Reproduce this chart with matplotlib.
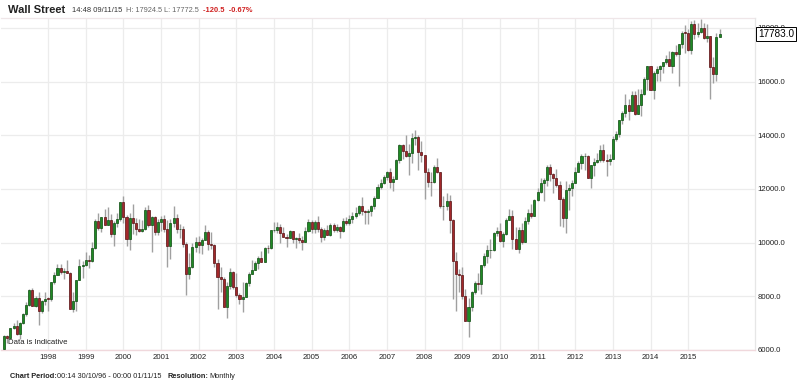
import matplotlib
matplotlib.use("Agg")
import matplotlib.pyplot as plt
import numpy as np

# ── Monthly OHLC, Nov 1996 .. Nov 2015 ─────────────────────────────────────
START_YEAR, START_MONTH = 1996, 11

opens = [
    6029, 6521,
    6448, 6813, 6878, 6584, 7009, 7331, 7673, 8223, 7622, 7945, 7442, 7823,
    7908, 7907, 8546, 8800, 9063, 8900, 8952, 8883, 7539, 7843, 8592, 9117,
    9181, 9359, 9307, 9786, 10789, 10560, 10971, 10655, 10829, 10337, 10730, 10878,
    11497, 10941, 10128, 10922, 10734, 10522, 10448, 10522, 11215, 10651, 10971, 10415,
    10787, 10887, 10495, 9879, 10735, 10912, 10502, 10523, 9950, 8848, 9075, 9852,
    10022, 9920, 10106, 10404, 9946, 9925, 9243, 8737, 8664, 7592, 8397, 8896,
    8342, 8054, 7891, 7992, 8480, 8850, 8985, 9234, 9416, 9275, 9801, 9782,
    10454, 10488, 10584, 10358, 10226, 10188, 10435, 10140, 10174, 10080, 10027, 10428,
    10783, 10490, 10766, 10504, 10193, 10467, 10275, 10641, 10482, 10569, 10440, 10806,
    10718, 10865, 10993, 11109, 11367, 11168, 11150, 11186, 11381, 11679, 12081, 12222,
    12463, 12622, 12269, 12354, 13063, 13628, 13409, 13212, 13358, 13896, 13930, 13372,
    13265, 12650, 12266, 12263, 12820, 12638, 11350, 11378, 11544, 10851, 9325, 8829,
    8776, 8001, 7063, 7609, 8168, 8500, 8447, 9172, 9496, 9712, 9713, 10345,
    10428, 10067, 10325, 10857, 11009, 10137, 9774, 10466, 10015, 10788, 11118, 11006,
    11578, 11892, 12226, 12320, 12811, 12570, 12414, 12143, 11614, 10913, 11955, 12046,
    12218, 12633, 12952, 13212, 13214, 12393, 12880, 13009, 13091, 13437, 13096, 13026,
    13104, 13861, 14054, 14579, 14840, 15116, 14910, 15500, 14810, 15130, 15546, 16086,
    16577, 15699, 16322, 16458, 16581, 16717, 16827, 16563, 17098, 17043, 17391, 17828,
    17823, 17165, 18133, 17776, 17841, 18011, 17620, 17690, 16528, 16285, 17664,
]
highs = [
    6548, 6561,
    6833, 7022, 7101, 7043, 7383, 7796, 8259, 8299, 8015, 8178, 7881, 8149,
    7978, 8550, 8906, 9211, 9211, 9070, 9367, 8914, 8154, 8592, 9380, 9320,
    9643, 9552, 10006, 10878, 11107, 10971, 11252, 11326, 11079, 10800, 11090, 11497,
    11750, 11041, 11119, 11425, 10936, 10864, 10843, 11331, 11401, 10977, 10984, 10899,
    10983, 11019, 10858, 10865, 11350, 11075, 10702, 10610, 10010, 9597, 9982, 10197,
    10259, 10176, 10673, 10485, 10403, 9935, 9380, 9077, 8734, 8538, 9043, 8928,
    8869, 8109, 8522, 8534, 8898, 9350, 9327, 9484, 9686, 9837, 9894, 10454,
    10753, 10753, 10678, 10570, 10318, 10479, 10436, 10212, 10342, 10240, 10573, 10868,
    10854, 10842, 10984, 10570, 10542, 10656, 10720, 10719, 10701, 10610, 10934, 10940,
    11048, 11137, 11335, 11413, 11709, 11230, 11242, 11420, 11728, 12167, 12361, 12529,
    12686, 12795, 12485, 13121, 13692, 13692, 14021, 13692, 14087, 14198, 14021, 13778,
    13280, 12767, 12622, 12891, 13136, 12638, 11748, 11867, 11790, 10882, 9654, 9026,
    9088, 8281, 7924, 8200, 8588, 8877, 9172, 9630, 9918, 10119, 10406, 10580,
    10730, 10402, 10908, 11258, 11205, 10594, 10581, 10720, 10948, 11245, 11452, 11625,
    12020, 12391, 12419, 12876, 12929, 12583, 12753, 12284, 11717, 12284, 12187, 12331,
    12814, 13055, 13289, 13338, 13279, 12898, 13159, 13330, 13653, 13662, 13290, 13311,
    13969, 14149, 14585, 14888, 15542, 15340, 15635, 15658, 15709, 15722, 16174, 16588,
    16588, 16398, 16588, 16632, 16736, 16978, 17152, 17153, 17350, 17395, 17895, 18103,
    17951, 18244, 18288, 18175, 18351, 18168, 18137, 17710, 16934, 17799, 17978,
]
lows = [
    6008, 6268,
    6392, 6772, 6555, 6392, 6976, 7264, 7645, 7622, 7600, 6937, 7381, 7660,
    7439, 7826, 8445, 8780, 8847, 8627, 8861, 7539, 7400, 7467, 8592, 8695,
    9120, 9063, 9268, 9752, 10466, 10398, 10655, 10646, 10213, 9884, 10581, 10825,
    10738, 9862, 9731, 10306, 10300, 10378, 10403, 10484, 10599, 9654, 10300, 10291,
    10434, 10386, 9106, 9389, 10576, 10376, 10175, 9830, 8062, 8659, 9050, 9645,
    9602, 9564, 10090, 9720, 9748, 9088, 7532, 8144, 7592, 7197, 8284, 8277,
    7990, 7702, 7416, 7988, 8395, 8835, 8963, 9010, 9275, 9272, 9622, 9770,
    10410, 10370, 9995, 10225, 9852, 10190, 9971, 9784, 10000, 9708, 10027, 10410,
    10368, 10371, 10404, 10012, 10109, 10270, 10240, 10397, 10379, 10156, 10406, 10650,
    10661, 10741, 10900, 11017, 11018, 10699, 10682, 10999, 11270, 11650, 11986, 12177,
    12325, 12022, 11939, 12354, 12970, 13115, 13183, 12518, 12971, 13650, 12725, 13007,
    11634, 12069, 11731, 12215, 12579, 11288, 10827, 11221, 10365, 7882, 7449, 8149,
    7909, 7062, 6470, 7456, 8083, 8221, 8087, 9079, 9253, 9430, 9678, 10235,
    10038, 9836, 10300, 10855, 9774, 9757, 9614, 9936, 10010, 10712, 10929, 11005,
    11535, 11858, 11555, 12093, 12294, 11862, 12080, 10604, 10597, 10362, 11231, 11735,
    12218, 12630, 12758, 12710, 12391, 12036, 12492, 12977, 12998, 12992, 12471, 12883,
    13104, 13784, 13937, 14434, 14688, 14552, 14911, 14760, 14777, 14719, 15516, 15703,
    15699, 15340, 16015, 16015, 16333, 16659, 16563, 16334, 16945, 15855, 17269, 17068,
    17136, 17038, 17586, 17660, 17799, 17597, 17465, 15370, 15942, 16013, 17664,
]
closes = [
    6521, 6448,
    6813, 6878, 6584, 7009, 7331, 7673, 8223, 7622, 7945, 7442, 7823, 7908,
    7907, 8546, 8800, 9063, 8900, 8952, 8883, 7539, 7843, 8592, 9117, 9181,
    9359, 9307, 9786, 10789, 10560, 10971, 10655, 10829, 10337, 10730, 10878, 11497,
    10941, 10128, 10922, 10734, 10522, 10448, 10522, 11215, 10651, 10971, 10415, 10787,
    10887, 10495, 9879, 10735, 10912, 10502, 10523, 9950, 8848, 9075, 9852, 10022,
    9920, 10106, 10404, 9946, 9925, 9243, 8737, 8664, 7592, 8397, 8896, 8342,
    8054, 7891, 7992, 8480, 8850, 8985, 9234, 9416, 9275, 9801, 9782, 10454,
    10488, 10584, 10358, 10226, 10188, 10435, 10140, 10174, 10080, 10027, 10428, 10783,
    10490, 10766, 10504, 10193, 10467, 10275, 10641, 10482, 10569, 10440, 10806, 10718,
    10865, 10993, 11109, 11367, 11168, 11150, 11186, 11381, 11679, 12081, 12222, 12463,
    12622, 12269, 12354, 13063, 13628, 13409, 13212, 13358, 13896, 13930, 13372, 13265,
    12650, 12266, 12263, 12820, 12638, 11350, 11378, 11544, 10851, 9325, 8829, 8776,
    8001, 7063, 7609, 8168, 8500, 8447, 9172, 9496, 9712, 9713, 10345, 10428,
    10067, 10325, 10857, 11009, 10137, 9774, 10466, 10015, 10788, 11118, 11006, 11578,
    11892, 12226, 12320, 12811, 12570, 12414, 12143, 11614, 10913, 11955, 12046, 12218,
    12633, 12952, 13212, 13214, 12393, 12880, 13009, 13091, 13437, 13096, 13026, 13104,
    13861, 14054, 14579, 14840, 15116, 14910, 15500, 14810, 15130, 15546, 16086, 16577,
    15699, 16322, 16458, 16581, 16717, 16827, 16563, 17098, 17043, 17391, 17828, 17823,
    17165, 18133, 17776, 17841, 18011, 17620, 17690, 16528, 16285, 17664, 17783,
]

year_labels = list(range(1998, 2016))
y_ticks = [6000, 8000, 10000, 12000, 14000, 16000, 18000]
last_price = "17783.0"

# ── Style ───────────────────────────────────────────────────────────────────
UP_FILL, UP_EDGE = "#1f8a24", "#0d4a10"
DN_FILL, DN_EDGE = "#a3282a", "#551012"
WICK = "#a0a0a0"
GRID = "#ececec"
FONT = "Liberation Sans"

fig = plt.figure(figsize=(8.0, 3.81), dpi=100)
ax = fig.add_axes([1 / 800, 1 - 350 / 381, 754 / 800, 332 / 381])

n = len(closes)
x = np.arange(n)
o, h, l, c = map(np.asarray, (opens, highs, lows, closes))
up = c >= o

ax.vlines(x, l, h, color=WICK, linewidth=1.0, zorder=2)
body_lo = np.minimum(o, c)
body_h = np.maximum(np.abs(c - o), 15)
ax.bar(x[up], body_h[up], bottom=body_lo[up], width=0.66,
       color=UP_FILL, edgecolor=UP_EDGE, linewidth=0.5, zorder=3)
ax.bar(x[~up], body_h[~up], bottom=body_lo[~up], width=0.66,
       color=DN_FILL, edgecolor=DN_EDGE, linewidth=0.5, zorder=3)

# year grid (January of each year)
year_pos = [(yr - START_YEAR) * 12 + (1 - START_MONTH) for yr in year_labels]
ax.set_xticks(year_pos)
ax.set_xticklabels([str(yr) for yr in year_labels])
ax.set_xlim(-1, 239.3)
ax.set_ylim(6000, 18370)
ax.set_yticks(y_ticks)
ax.set_yticklabels([f"{v:.1f}" for v in y_ticks])
ax.yaxis.tick_right()
ax.grid(True, color=GRID, linewidth=0.9, zorder=0)
ax.tick_params(axis="both", length=0, labelsize=5.6, colors="#222222", pad=3)
ax.tick_params(axis="y", pad=2)
for lab in ax.get_xticklabels() + ax.get_yticklabels():
    lab.set_fontfamily(FONT)

for side in ("left", "top"):
    ax.spines[side].set_visible(False)
ax.spines["right"].set_color("#e6e6e6")
ax.spines["bottom"].set_color("#f0d8dc")
ax.spines["right"].set_linewidth(0.9)
ax.spines["bottom"].set_linewidth(1.0)
ax.axhline(ax.get_ylim()[1], color="#efe6e8", linewidth=0.9, clip_on=False)

ax.text(0.0095, 0.013, "Data is Indicative", transform=ax.transAxes,
        fontsize=5.6, fontfamily=FONT, color="#222222", ha="left", va="bottom")

# last price marker (partly covers the 18000.0 label, as in the source)
ax.annotate(last_price, xy=(1.0, closes[-1]), xycoords=("axes fraction", "data"),
            xytext=(2, 0), textcoords="offset points", ha="left", va="center",
            fontsize=7.2, fontfamily=FONT, color="black", annotation_clip=False,
            bbox=dict(boxstyle="square,pad=0.22", facecolor="white",
                      edgecolor="black", linewidth=0.7), zorder=10)

# header
HEAD_Y = 1 - 10 / 381
fig.text(8 / 800, HEAD_Y, "Wall Street", fontsize=8, fontweight="bold",
         fontfamily=FONT, color="#222222", va="center", ha="left")
fig.text(72 / 800, HEAD_Y, "14:48 09/11/15", fontsize=5.4,
         fontfamily=FONT, color="#333333", va="center", ha="left")
fig.text(126 / 800, HEAD_Y, "H: 17924.5 L: 17772.5", fontsize=5.3,
         fontfamily=FONT, color="#666666", va="center", ha="left")
fig.text(203 / 800, HEAD_Y, "-120.5  -0.67%", fontsize=5.4, fontweight="bold",
         fontfamily=FONT, color="#d02020", va="center", ha="left")

# footer
FOOT_Y = 1 - 376 / 381
fig.text(10 / 800, FOOT_Y, "Chart Period:", fontsize=5.3, fontweight="bold",
         fontfamily=FONT, color="#222222", va="center", ha="left")
fig.text(57 / 800, FOOT_Y, "00:14 30/10/96 - 00:00 01/11/15", fontsize=5.3,
         fontfamily=FONT, color="#222222", va="center", ha="left")
fig.text(167 / 800, FOOT_Y, "Resolution:", fontsize=5.3, fontweight="bold",
         fontfamily=FONT, color="#222222", va="center", ha="left")
fig.text(209 / 800, FOOT_Y, "Monthly", fontsize=5.3,
         fontfamily=FONT, color="#222222", va="center", ha="left")

fig.savefig("out.png", dpi=100, facecolor="white")
